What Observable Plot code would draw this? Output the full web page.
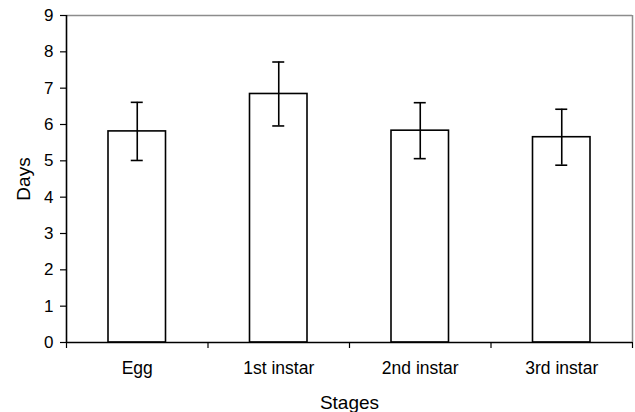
<!DOCTYPE html>
<html>
<head>
<meta charset="utf-8">
<script src="https://cdn.jsdelivr.net/npm/d3@7"></script>
<script src="https://cdn.jsdelivr.net/npm/@observablehq/plot@0.6"></script>
<style>
  html, body { margin: 0; padding: 0; background: #fff; }
  svg { font-family: "Liberation Sans", Arial, sans-serif; }
  g[aria-label="x-axis label"] text, g[aria-label="y-axis label"] text { font-size: 19px; }
</style>
</head>
<body>
<div id="chart"></div>
<script>
const stages = ["Egg", "1st instar", "2nd instar", "3rd instar"];
const means = [5.81, 6.84, 5.83, 5.65];
const errors = [0.80, 0.88, 0.77, 0.77];
const yTicks = [0, 1, 2, 3, 4, 5, 6, 7, 8, 9];

const data = stages.map((s, i) => ({
  stage: s, i, mean: means[i], lo: means[i] - errors[i], hi: means[i] + errors[i]
}));
const boundaries = d3.range(stages.length + 1);

const chart = Plot.plot({
  width: 635,
  height: 412,
  marginLeft: 66,
  marginRight: 3,
  marginTop: 15,
  marginBottom: 70,
  x: { type: "linear", domain: [0, stages.length] },
  y: { domain: [0, 9] },
  style: { fontFamily: "Liberation Sans, Arial, sans-serif", background: "#fff" },
  marks: [
    Plot.ruleY([9], { stroke: "#8c8c8c", strokeWidth: 1.5 }),
    Plot.ruleX([stages.length], { stroke: "#8c8c8c", strokeWidth: 1.5 }),
    Plot.rectY(data, {
      x1: "i", x2: d => d.i + 1, y1: 0, y2: "mean",
      insetLeft: 42, insetRight: 42,
      fill: "white", stroke: "black", strokeWidth: 1.6
    }),
    Plot.ruleX(data, { x: d => d.i + 0.5, y1: "lo", y2: "hi", stroke: "black", strokeWidth: 1.6 }),
    Plot.ruleY(data, { y: "lo", x1: d => d.i + 0.5, x2: d => d.i + 0.5, insetLeft: -6, insetRight: -6, stroke: "black", strokeWidth: 1.6 }),
    Plot.ruleY(data, { y: "hi", x1: d => d.i + 0.5, x2: d => d.i + 0.5, insetLeft: -6, insetRight: -6, stroke: "black", strokeWidth: 1.6 }),
    Plot.axisY({
      ticks: yTicks, tickSize: 6, tickFormat: () => "",
      label: "Days", labelAnchor: "center", labelArrow: "none", labelOffset: 50,
      stroke: "black", strokeWidth: 1.2, color: "black"
    }),
    Plot.text(yTicks, { x: 0, y: d => d, text: d => String(d), textAnchor: "end", dx: -13, fontSize: 17, fill: "black" }),
    Plot.axisX({
      ticks: boundaries, tickSize: 6, tickFormat: () => "",
      label: "Stages", labelAnchor: "center", labelArrow: "none", labelOffset: 66,
      stroke: "black", strokeWidth: 1.2, color: "black"
    }),
    Plot.text(data, { x: d => d.i + 0.5, y: 0, text: "stage", dy: 26, fontSize: 17.5, fill: "black" }),
    Plot.ruleX([0], { stroke: "black", strokeWidth: 1.6 }),
    Plot.ruleY([0], { stroke: "black", strokeWidth: 1.6 })
  ]
});
document.getElementById("chart").appendChild(chart);
</script>
</body>
</html>
